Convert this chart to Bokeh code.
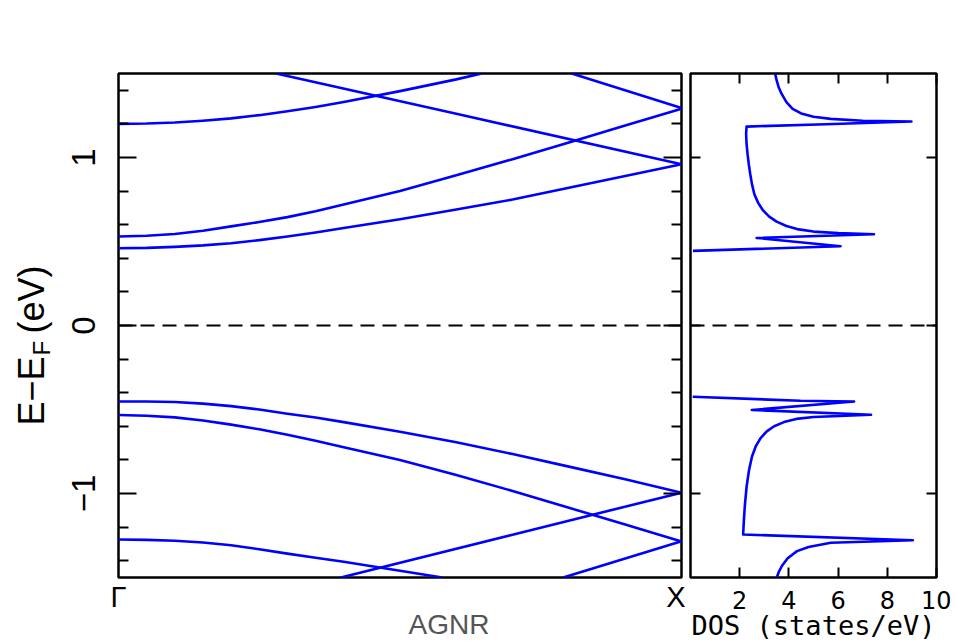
import numpy as np
from bokeh.plotting import figure
from bokeh.layouts import row
from bokeh.models import Range1d, FixedTicker, LinearAxis, Span, Label, Title
from bokeh.embed import file_html
from bokeh.resources import INLINE

# ---------------- data ----------------
# band structure along Gamma -> X (k in units of the path), energies in eV
k_full = [0.0, 0.05, 0.1, 0.15, 0.2, 0.25, 0.3, 0.35, 0.4, 0.5, 0.6, 0.7, 0.8, 0.9, 1.0]
band_c1 = [0.46, 0.462, 0.468, 0.477, 0.49, 0.508, 0.53, 0.554, 0.58, 0.632, 0.69, 0.75, 0.82, 0.89, 0.96]
band_c2 = [0.53, 0.534, 0.545, 0.564, 0.59, 0.616, 0.645, 0.68, 0.72, 0.80, 0.895, 0.99, 1.09, 1.19, 1.29]
band_v1 = [-0.452, -0.452, -0.455, -0.465, -0.48, -0.50, -0.525, -0.548, -0.575, -0.632, -0.695,
           -0.765, -0.84, -0.915, -0.995]
band_v2 = [-0.533, -0.537, -0.547, -0.565, -0.59, -0.618, -0.65, -0.686, -0.725, -0.80, -0.89,
           -0.985, -1.085, -1.185, -1.285]

k_c3 = [0.0, 0.05, 0.1, 0.15, 0.2, 0.25, 0.3, 0.35, 0.4, 0.5, 0.6, 0.645]
band_c3 = [1.20, 1.202, 1.208, 1.219, 1.233, 1.252, 1.275, 1.301, 1.33, 1.395, 1.465, 1.50]
k_v3 = [0.0, 0.05, 0.1, 0.15, 0.2, 0.25, 0.3, 0.35, 0.4, 0.5, 0.575]
band_v3 = [-1.274, -1.276, -1.281, -1.292, -1.308, -1.332, -1.358, -1.382, -1.406, -1.46, -1.50]

k_d1 = [0.28, 0.6, 1.0]
band_d1 = [1.50, 1.26, 0.96]
k_d2 = [0.805, 1.0]
band_d2 = [1.50, 1.294]
k_u1 = [0.395, 0.7, 1.0]
band_u1 = [-1.50, -1.245, -0.995]
k_u2 = [0.79, 1.0]
band_u2 = [-1.50, -1.284]

# density of states (states/eV)
dos_cond = [3.44, 3.5, 3.58, 3.7, 3.9, 4.15, 4.5, 5.0, 5.7, 7.0, 8.98, 5.5, 2.28, 2.26, 2.28, 2.32,
            2.37, 2.43, 2.5, 2.6, 2.75, 2.95, 3.2, 3.5, 3.9, 4.4, 5.0, 6.0, 7.46, 2.69, 6.1, 0.1]
e_cond = [1.50, 1.46, 1.42, 1.38, 1.33, 1.29, 1.262, 1.243, 1.23, 1.219, 1.214, 1.198, 1.184, 1.14,
          1.08, 1.02, 0.96, 0.90, 0.84, 0.78, 0.73, 0.685, 0.648, 0.618, 0.592, 0.572, 0.559, 0.55,
          0.543, 0.521, 0.472, 0.444]
dos_val = [0.09, 4.47, 6.65, 2.49, 7.34, 5.0, 4.3, 3.8, 3.4, 3.1, 2.85, 2.65, 2.5, 2.38, 2.28, 2.21,
           2.17, 2.14, 9.04, 5.7, 4.8, 4.33, 3.95, 3.72, 3.58, 3.51]
e_val = [-0.424, -0.448, -0.452, -0.503, -0.531, -0.545, -0.556, -0.575, -0.60, -0.63, -0.67, -0.72,
         -0.78, -0.86, -0.96, -1.07, -1.16, -1.244, -1.278, -1.293, -1.318, -1.343, -1.385, -1.43,
         -1.47, -1.50]

# axes
y_major = [-1, 0, 1]
y_minor = [-1.4, -1.2, -0.8, -0.6, -0.4, -0.2, 0.2, 0.4, 0.6, 0.8, 1.2, 1.4]
y_labels = {-1: "\u22121", 0: "0", 1: "1"}
k_ticks = [0, 1]
k_labels = {0: "\u0393", 1: "X"}
dos_ticks = [2, 4, 6, 8, 10]

BLUE = "#0000ff"
ARIAL = "Liberation Sans"
ROUND = "DejaVu Sans"
MONO = "DejaVu Sans Mono"
FRAME_TOP = 73
FRAME_BOTTOM = 577
H = 641


def style(ax, tick_in, minor_in=0, font=ARIAL, size="30px", labels=True, standoff=6):
    ax.axis_line_color = None
    ax.major_tick_in = tick_in
    ax.major_tick_out = 0
    ax.major_tick_line_width = 2
    ax.major_tick_line_color = "black" if tick_in else None
    ax.minor_tick_in = minor_in
    ax.minor_tick_out = 0
    ax.minor_tick_line_width = 2
    ax.minor_tick_line_color = "black" if minor_in else None
    ax.major_label_text_font = font
    ax.major_label_text_color = "black"
    if labels:
        ax.major_label_text_font_size = size
        ax.major_label_standoff = standoff
    else:
        ax.major_label_text_font_size = "0px"
        ax.major_label_standoff = 0


y_range = Range1d(-1.5, 1.5)

# ---------------- y-axis title panel (its frame is aligned with the plot frames) ----------------
p0 = figure(width=56, height=H, x_range=Range1d(0, 1), y_range=Range1d(0, 1),
            output_backend="svg", toolbar_location=None, min_border=0, title=None,
            x_axis_location=None, y_axis_location=None)
p0.grid.visible = False
p0.outline_line_color = None
lab_kw = dict(x_units="screen", y_units="screen", angle=np.pi / 2,
              text_font=ARIAL, text_color="black", text_align="left", text_baseline="middle")
p0.add_layout(Label(x=31, y=FRAME_BOTTOM - 425, text="E\u2212E", text_font_size="36px", **lab_kw))
p0.add_layout(Label(x=41, y=FRAME_BOTTOM - 355, text="F", text_font_size="24px", **lab_kw))
p0.add_layout(Label(x=31, y=FRAME_BOTTOM - 333, text="(eV)", text_font_size="36px", **lab_kw))

# ---------------- band panel ----------------
p1 = figure(width=629, height=H, x_range=Range1d(0, 1), y_range=y_range,
            output_backend="svg", toolbar_location=None,
            min_border_left=62, min_border_right=4, min_border_top=FRAME_TOP,
            min_border_bottom=H - FRAME_BOTTOM)
p1.grid.visible = False
p1.outline_line_color = "black"
p1.outline_line_width = 2.5
p1.background_fill_color = "white"
p1.border_fill_color = "white"

p1.yaxis.ticker = FixedTicker(ticks=y_major, minor_ticks=y_minor)
p1.yaxis.major_label_overrides = y_labels
p1.yaxis.major_label_orientation = "vertical"
style(p1.yaxis[0], 18, 10, size="33px", standoff=24)

p1.xaxis.ticker = FixedTicker(ticks=k_ticks)
p1.xaxis.major_label_overrides = k_labels
style(p1.xaxis[0], 0, 0, size="29px", standoff=3)

ax_r = LinearAxis(ticker=FixedTicker(ticks=y_major, minor_ticks=y_minor),
                  major_label_overrides={-1: "", 0: "", 1: ""})
style(ax_r, 18, 10, labels=False)
p1.add_layout(ax_r, "right")

p1.add_layout(Title(text="AGNR", align="left", offset=290, standoff=-14, vertical_align="top",
                    text_font=ARIAL, text_font_size="28px", text_font_style="normal",
                    text_color="#555555"), "below")

for kk, ee in [(k_full, band_c1), (k_full, band_c2), (k_full, band_v1), (k_full, band_v2),
               (k_c3, band_c3), (k_v3, band_v3), (k_d1, band_d1), (k_d2, band_d2),
               (k_u1, band_u1), (k_u2, band_u2)]:
    p1.line(kk, ee, line_color=BLUE, line_width=2.6, line_join="round")

p1.add_layout(Span(location=0, dimension="width", line_color="black",
                   line_width=2, line_dash="14 8"))

# ---------------- DOS panel ----------------
p2 = figure(width=266, height=H, x_range=Range1d(0, 10), y_range=y_range,
            output_backend="svg", toolbar_location=None,
            min_border_left=5, min_border_right=15, min_border_top=FRAME_TOP,
            min_border_bottom=H - FRAME_BOTTOM)
p2.grid.visible = False
p2.outline_line_color = "black"
p2.outline_line_width = 2.5
p2.background_fill_color = "white"
p2.border_fill_color = "white"

p2.xaxis.ticker = FixedTicker(ticks=dos_ticks)
style(p2.xaxis[0], 10, 0, font=ROUND, size="24px", standoff=13)

p2.yaxis.ticker = FixedTicker(ticks=y_major)
p2.yaxis.major_label_overrides = {-1: "", 0: "", 1: ""}
style(p2.yaxis[0], 10, 0, labels=False)

ax_t = LinearAxis(ticker=FixedTicker(ticks=dos_ticks),
                  major_label_overrides={2: "", 4: "", 6: "", 8: "", 10: ""})
style(ax_t, 10, 0, labels=False)
p2.add_layout(ax_t, "above")

ax_r2 = LinearAxis(ticker=FixedTicker(ticks=y_major),
                   major_label_overrides={-1: "", 0: "", 1: ""})
style(ax_r2, 10, 0, labels=False)
p2.add_layout(ax_r2, "right")

p2.add_layout(Title(text="DOS (states/eV)", align="center", standoff=-3, vertical_align="top",
                    text_font=MONO, text_font_size="27px", text_font_style="normal",
                    text_color="black"), "below")

p2.line(dos_cond, e_cond, line_color=BLUE, line_width=2.6, line_join="round")
p2.line(dos_val, e_val, line_color=BLUE, line_width=2.6, line_join="round")
p2.add_layout(Span(location=0, dimension="width", line_color="black",
                   line_width=2, line_dash="14 8"))

layout = row(p0, p1, p2, spacing=0)
open("out.html", "w").write(file_html(layout, INLINE))
